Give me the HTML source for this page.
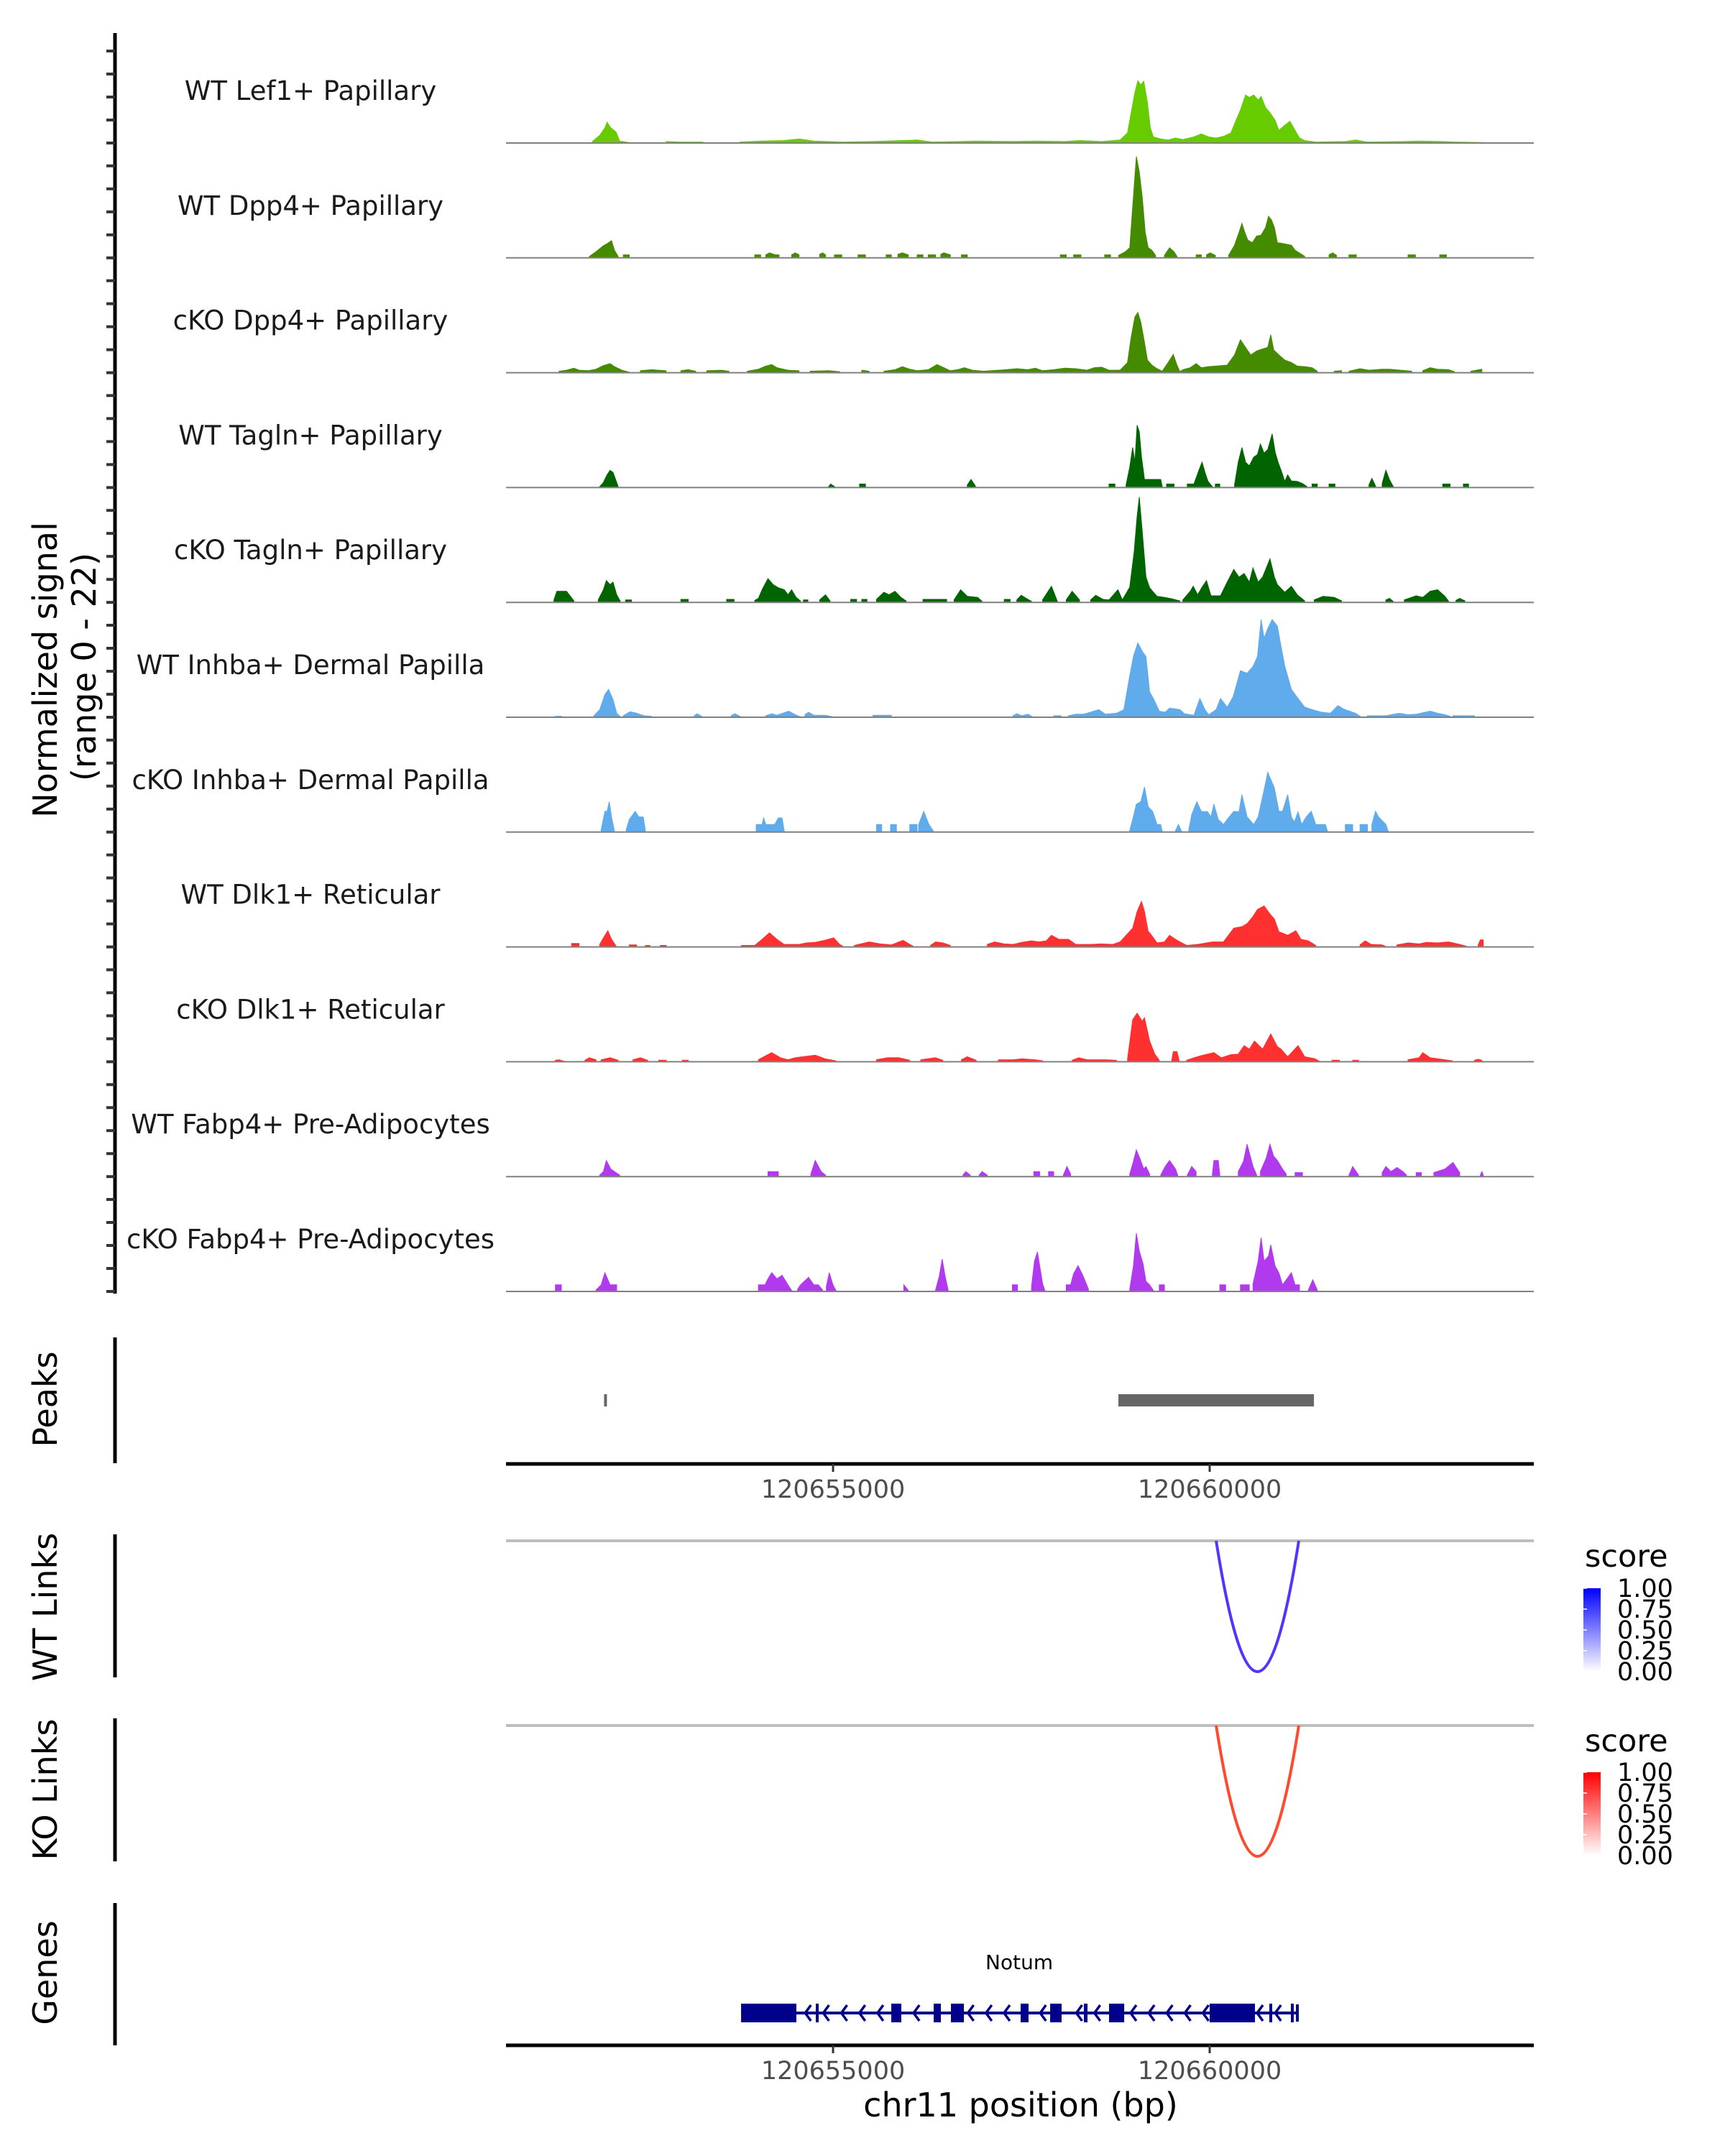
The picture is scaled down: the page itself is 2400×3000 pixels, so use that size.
<!DOCTYPE html>
<html><head><meta charset="utf-8"><style>
html,body{margin:0;padding:0;background:#fff;}
svg{display:block;font-family:"DejaVu Sans","Liberation Sans",sans-serif;}
</style></head><body>
<svg id="chart" xmlns="http://www.w3.org/2000/svg" width="2400" height="3000" viewBox="0 0 2400 3000">
<rect width="2400" height="3000" fill="#fff"/>
<text x="0" y="0" transform="translate(79,932) rotate(-90)" text-anchor="middle" font-size="46" fill="#000">Normalized signal</text>
<text x="0" y="0" transform="translate(133,928) rotate(-90)" text-anchor="middle" font-size="46" fill="#000">(range 0 - 22)</text>
<text transform="translate(79,1947) rotate(-90)" text-anchor="middle" font-size="46">Peaks</text>
<text transform="translate(79,2236) rotate(-90)" text-anchor="middle" font-size="46">WT Links</text>
<text transform="translate(79,2490) rotate(-90)" text-anchor="middle" font-size="46">KO Links</text>
<text transform="translate(79,2745) rotate(-90)" text-anchor="middle" font-size="46">Genes</text>
<line x1="160" y1="46" x2="160" y2="1800" stroke="#000" stroke-width="5"/>
<line x1="160" y1="1861" x2="160" y2="2036" stroke="#000" stroke-width="5"/>
<line x1="160" y1="2135" x2="160" y2="2334" stroke="#000" stroke-width="5"/>
<line x1="160" y1="2391" x2="160" y2="2590" stroke="#000" stroke-width="5"/>
<line x1="160" y1="2648" x2="160" y2="2846" stroke="#000" stroke-width="5"/>
<g id="tracks"></g>
<g id="lower"></g>
<text x="2205" y="2180" font-size="43">score</text>
<text x="2205" y="2437" font-size="43">score</text>
<text x="1420" y="2945" text-anchor="middle" font-size="46">chr11 position (bp)</text>
</svg>
<script>
const NS='http://www.w3.org/2000/svg';
const regionStart=120650658, regionEnd=120664303;
const trackNames=["WT Lef1+ Papillary","WT Dpp4+ Papillary","cKO Dpp4+ Papillary","WT Tagln+ Papillary","cKO Tagln+ Papillary","WT Inhba+ Dermal Papilla","cKO Inhba+ Dermal Papilla","WT Dlk1+ Reticular","cKO Dlk1+ Reticular","WT Fabp4+ Pre-Adipocytes","cKO Fabp4+ Pre-Adipocytes"];
const trackColors=["#66cc00","#458b00","#458b00","#006400","#006400","#5fabeb","#5fabeb","#ff3030","#ff3030","#b23aee","#b23aee"];
const yMax=22;
// signal clusters: [kb offset from 120650000, value]
const sigLef1WT=[[[1.80,0.3],[1.90,1.5],[1.97,3.0],[2.00,4.1],[2.05,3.0],[2.12,2.2],[2.17,0.4],[2.30,0.1]],[[2.8,0.3],[3.0,0.2],[3.3,0.2]],[[3.8,0.2],[4.1,0.4],[4.4,0.5],[4.6,0.8],[4.8,0.4],[5.2,0.2],[5.6,0.3],[6.0,0.5],[6.2,0.6],[6.4,0.2],[6.8,0.3],[7.0,0.4],[7.5,0.3],[7.8,0.4],[8.2,0.3],[8.4,0.5],[8.7,0.3],[8.95,0.6],[9.05,2],[9.10,6],[9.15,10],[9.19,12.3],[9.23,11.5],[9.27,12.2],[9.32,8],[9.36,3],[9.40,1.2],[9.50,0.8],[9.60,0.6],[9.70,1.0],[9.80,0.7],[9.95,1.2],[10.05,1.8],[10.15,1.2],[10.25,1.0],[10.35,1.3],[10.45,2.0],[10.52,4.5],[10.58,6.5],[10.65,9.5],[10.70,9.0],[10.76,9.5],[10.82,8.5],[10.86,9.2],[10.92,7.0],[10.98,6.0],[11.05,4.5],[11.10,2.5],[11.18,3.5],[11.25,4.3],[11.32,2.5],[11.38,1.0],[11.45,0.5],[11.6,0.2],[12.0,0.3],[12.14,0.6],[12.3,0.2],[12.8,0.3],[13.0,0.4],[13.3,0.3],[13.5,0.2],[13.85,0.1]]];
const sigDpp4WT=[[[1.76,0.3],[1.85,1.2],[1.95,2.4],[2.00,2.8],[2.06,3.4],[2.10,1.5],[2.15,0.3]],[[2.22,0.6],[2.30,0.6]],[[4.00,0.6],[4.08,0.6]],[[4.15,0.6],[4.20,1.0],[4.28,0.6],[4.33,0.6]],[[4.50,0.6],[4.55,1.0],[4.60,0.6]],[[4.88,0.7],[4.92,1.0],[4.96,0.6]],[[5.08,0.6],[5.18,0.6]],[[5.40,0.6],[5.50,0.6]],[[5.78,0.6],[5.85,0.6]],[[5.94,0.7],[6.00,1.0],[6.08,0.6]],[[6.20,0.6],[6.28,0.6]],[[6.35,0.6],[6.45,0.6]],[[6.52,0.7],[6.56,1.0],[6.65,0.6]],[[6.80,0.6],[6.88,0.6]],[[8.14,0.6],[8.22,0.6]],[[8.32,0.6],[8.42,0.6]],[[8.74,0.6],[8.82,0.6]],[[8.93,0.5],[9.02,1.2],[9.08,2],[9.13,12],[9.17,20.0],[9.21,17],[9.25,12],[9.29,5],[9.33,2.0],[9.38,1.5],[9.43,0.5]],[[9.55,0.5],[9.62,2.0],[9.68,1.2],[9.72,0.3]],[[9.98,0.6],[10.05,0.6]],[[10.12,0.6],[10.17,1.0],[10.24,0.5]],[[10.42,0.5],[10.50,2.5],[10.56,5],[10.60,6.8],[10.64,5],[10.68,3.5],[10.74,3.0],[10.80,4.3],[10.86,4.5],[10.92,6],[10.96,8.2],[11.00,7.5],[11.04,6],[11.08,3],[11.13,2.9],[11.20,2.7],[11.27,2.5],[11.32,1.5],[11.45,0.3]],[[11.78,0.6],[11.83,1.0],[11.88,0.5]],[[12.05,0.6],[12.15,0.6]],[[12.85,0.6],[12.95,0.6]],[[13.28,0.6],[13.37,0.6]]];
const sigDpp4KO=[[[1.35,0.3],[1.45,0.5],[1.55,0.9],[1.62,0.5],[1.75,0.4],[1.85,0.7],[1.95,1.4],[2.04,1.8],[2.10,1.2],[2.20,0.5],[2.30,0.1]],[[2.45,0.4],[2.60,0.6],[2.80,0.4]],[[3.0,0.4],[3.1,0.6],[3.2,0.3]],[[3.35,0.4],[3.55,0.5],[3.65,0.3]],[[3.9,0.3],[4.05,0.7],[4.15,1.3],[4.23,1.6],[4.30,1.0],[4.45,0.5],[4.6,0.4]],[[4.75,0.3],[5.0,0.4],[5.15,0.2]],[[5.45,0.5],[5.55,0.3]],[[5.75,0.3],[5.90,0.6],[6.00,1.2],[6.10,0.7],[6.20,0.4],[6.35,0.6],[6.47,1.6],[6.56,1.0],[6.65,0.4],[6.75,0.6],[6.84,1.0],[6.95,0.5],[7.10,0.3],[7.40,0.6],[7.55,0.8],[7.70,0.6],[7.80,0.9],[7.90,0.4],[8.05,0.6],[8.20,0.9],[8.35,0.8],[8.50,0.5],[8.60,1.0],[8.70,1.1],[8.80,0.5],[8.95,0.5],[9.05,2],[9.10,7],[9.15,11],[9.19,11.9],[9.23,10],[9.28,6],[9.32,2.5],[9.38,1.5],[9.45,0.8],[9.52,0.3],[9.60,2],[9.67,3.6],[9.72,1.5],[9.76,0.2],[9.80,0.6],[9.90,1.0],[9.98,1.8],[10.05,1.0],[10.15,1.2],[10.25,1.3],[10.40,1.5],[10.50,3.5],[10.58,6.5],[10.65,5.0],[10.72,3.5],[10.80,4.3],[10.88,4.7],[10.95,5.0],[10.99,7.5],[11.03,4.5],[11.10,3.5],[11.18,2.5],[11.27,2.0],[11.35,1.3],[11.45,1.2],[11.55,1.0],[11.62,0.3]],[[11.85,0.3],[11.95,0.4]],[[12.05,0.3],[12.20,0.8],[12.32,0.5],[12.50,0.7],[12.60,0.7],[12.75,0.5],[12.90,0.3]],[[13.05,0.4],[13.15,1.0],[13.25,0.7],[13.40,0.6],[13.48,0.2]],[[13.70,0.3],[13.85,0.7]]];
const sigTaglnWT=[[[1.90,0.2],[1.95,1.0],[2.00,2.5],[2.04,3.4],[2.08,3.0],[2.15,0.2]],[[5.00,0.2],[5.03,0.7],[5.08,0.2]],[[5.42,0.7],[5.50,0.7]],[[6.88,0.5],[6.93,1.6],[6.99,0.3]],[[8.80,0.7],[8.88,0.7]],[[9.03,0.5],[9.08,4],[9.12,7.9],[9.15,5],[9.18,12.3],[9.21,11],[9.24,6],[9.28,1.6],[9.50,1.6],[9.52,0.2]],[[9.58,0.7],[9.68,0.7]],[[9.86,0.7],[9.95,0.7],[10.02,3.5],[10.06,5.0],[10.10,3],[10.14,1.2],[10.20,0.2]],[[10.24,0.7],[10.30,0.7]],[[10.50,0.5],[10.55,5],[10.60,7.9],[10.65,5],[10.70,4.3],[10.76,6],[10.81,6.5],[10.85,8.6],[10.90,6.8],[10.95,7.5],[11.01,10.6],[11.05,7],[11.09,5],[11.14,3],[11.18,1.2],[11.22,2.5],[11.27,1.3],[11.35,1.2],[11.42,0.8],[11.48,0.2]],[[11.55,0.7],[11.62,0.7]],[[11.78,0.7],[11.86,0.7]],[[12.32,0.5],[12.36,1.8],[12.41,0.3]],[[12.50,0.8],[12.55,3.4],[12.60,1.5],[12.65,0.2]],[[13.32,0.7],[13.42,0.7]],[[13.60,0.7],[13.67,0.7]]];
const sigTaglnKO=[[[1.28,0.5],[1.32,2.2],[1.45,2.2],[1.55,0.3]],[[1.88,0.5],[1.95,2.5],[1.99,4.3],[2.04,3.5],[2.08,4.0],[2.13,1.5],[2.18,0.2]],[[2.25,0.5],[2.33,0.5]],[[3.00,0.6],[3.10,0.6]],[[3.62,0.6],[3.72,0.6]],[[4.00,0.4],[4.05,0.8],[4.10,2.5],[4.18,4.7],[4.25,3.5],[4.32,2.9],[4.40,2.5],[4.45,1.5],[4.50,2.5],[4.56,1.0],[4.62,0.3]],[[4.66,0.5],[4.72,0.5]],[[4.88,0.5],[4.96,1.5],[5.02,0.3]],[[5.30,0.6],[5.38,0.6]],[[5.45,0.6],[5.52,0.6]],[[5.65,0.6],[5.75,2.0],[5.82,1.5],[5.90,2.2],[5.98,1.0],[6.05,0.3]],[[6.28,0.6],[6.60,0.6]],[[6.70,0.5],[6.79,2.5],[6.88,1.2],[7.02,1.0],[7.08,0.2]],[[7.38,0.6],[7.46,0.6]],[[7.55,0.5],[7.61,1.4],[7.70,0.6],[7.75,0.2]],[[7.90,0.5],[8.02,3.2],[8.10,0.2]],[[8.22,0.5],[8.30,2.2],[8.40,0.5]],[[8.55,0.5],[8.62,1.4],[8.72,0.6],[8.80,0.5],[8.92,2.5],[8.98,0.5],[9.08,3],[9.14,10],[9.18,17],[9.21,20.8],[9.25,14],[9.30,5],[9.35,2.9],[9.40,2.0],[9.45,1.2],[9.55,1.0],[9.65,0.7],[9.76,0.3]],[[9.80,0.5],[9.90,2.2],[9.94,3.2],[10.00,1.5],[10.06,3],[10.12,4.3],[10.18,1.3],[10.31,1.3],[10.40,4],[10.49,6.5],[10.56,5],[10.63,5.7],[10.70,4],[10.75,6.8],[10.82,4.0],[10.88,5],[10.98,8.6],[11.04,5],[11.08,3.5],[11.18,2],[11.27,3.2],[11.35,1.5],[11.45,0.3]],[[11.58,0.5],[11.70,1.2],[11.85,1.0],[11.95,0.3]],[[12.55,0.5],[12.60,0.8],[12.65,0.2]],[[12.80,0.5],[12.96,1.3],[13.05,1.0],[13.15,2.2],[13.25,2.5],[13.35,1.2],[13.40,0.2]],[[13.50,0.4],[13.55,0.8],[13.62,0.3]]];
const sigInhbaWT=[[[1.30,0.2],[1.38,0.2]],[[1.82,0.3],[1.90,1.5],[1.97,4.5],[2.02,5.5],[2.08,3.5],[2.13,0.8],[2.18,0.1]],[[2.22,0.3],[2.31,1.1],[2.40,0.8],[2.50,0.3],[2.60,0.2]],[[3.18,0.3],[3.22,0.7],[3.28,0.2]],[[3.68,0.3],[3.73,0.7],[3.80,0.2]],[[4.15,0.3],[4.23,0.7],[4.30,0.4],[4.46,1.2],[4.55,0.5],[4.62,0.1]],[[4.68,0.5],[4.73,1.0],[4.80,0.4],[4.96,0.4],[5.05,0.1]],[[5.60,0.4],[5.85,0.4]],[[7.50,0.3],[7.55,0.7],[7.62,0.3],[7.70,0.6],[7.75,0.2]],[[8.05,0.3],[8.15,0.3]],[[8.25,0.3],[8.35,0.6],[8.45,0.6],[8.55,1.0],[8.66,1.5],[8.75,0.6],[8.90,0.8],[9.00,1.5],[9.07,7.4],[9.13,12],[9.19,14.7],[9.25,13],[9.30,12],[9.35,5],[9.40,3.7],[9.48,1.2],[9.56,1.0],[9.62,1.8],[9.76,1.5],[9.82,0.7],[9.95,0.4],[10.03,3.7],[10.10,1.5],[10.15,0.5],[10.25,1.5],[10.31,3.7],[10.40,2],[10.48,4],[10.58,9.2],[10.67,8.7],[10.75,10],[10.81,12],[10.86,19.3],[10.90,15.6],[10.95,17.5],[11.01,19.3],[11.08,18],[11.13,14],[11.18,10.1],[11.27,5.5],[11.36,3.7],[11.45,2],[11.55,1.5],[11.68,1.0],[11.80,0.8],[11.90,2.3],[11.98,1.6],[12.14,0.8],[12.20,0.2]],[[12.30,0.3],[12.55,0.3],[12.73,0.8],[12.85,0.5],[12.96,0.6],[13.05,0.9],[13.15,1.2],[13.25,0.8],[13.35,0.5],[13.42,0.2]],[[13.46,0.3],[13.75,0.3]]];
const sigInhbaKO=[[[1.92,0.5],[1.97,4.1],[2.00,4.1],[2.03,6.0],[2.06,3],[2.10,0.2]],[[2.26,0.5],[2.30,2.5],[2.38,4.1],[2.43,3],[2.49,3],[2.52,0.2]],[[4.02,1.5],[4.10,1.5],[4.12,2.8],[4.15,1.5],[4.27,1.5],[4.32,2.8],[4.37,2.8],[4.40,0.2]],[[5.65,1.5],[5.72,1.5]],[[5.84,1.5],[5.92,1.5]],[[6.10,1.5],[6.20,1.5]],[[6.22,1.5],[6.29,4.1],[6.36,1.5],[6.42,0.2]],[[9.08,0.3],[9.12,2.5],[9.17,5.5],[9.23,6],[9.28,8.9],[9.33,5],[9.39,4.1],[9.45,1.5],[9.50,1.5],[9.52,0.2]],[[9.70,0.3],[9.74,1.5],[9.78,0.2]],[[9.88,0.5],[9.92,3.5],[9.99,6.0],[10.05,4.1],[10.10,4.0],[10.13,4.1],[10.18,3],[10.22,5.5],[10.28,2.5],[10.35,1.5],[10.40,2.5],[10.49,4.1],[10.56,4],[10.60,7.4],[10.67,3],[10.76,1.5],[10.82,3],[10.90,8.3],[10.95,11.8],[11.04,8.7],[11.10,4.1],[11.15,4.1],[11.22,7.4],[11.27,3],[11.31,2],[11.36,4],[11.41,1.5],[11.47,3],[11.54,4.1],[11.60,1.5],[11.73,1.5],[11.76,0.2]],[[12.00,1.5],[12.10,1.5]],[[12.20,1.5],[12.30,1.5]],[[12.36,1.5],[12.41,4.1],[12.45,3],[12.55,1.5],[12.58,0.2]]];
const sigDlk1WT=[[[1.52,0.7],[1.62,0.7]],[[1.90,0.5],[1.96,2],[2.01,3.2],[2.06,1.5],[2.12,0.2]],[[2.30,0.4],[2.40,0.4]],[[2.52,0.3],[2.58,0.3]],[[2.72,0.3],[2.80,0.3]],[[3.82,0.3],[4.00,0.3],[4.10,1.5],[4.20,2.8],[4.30,1.5],[4.40,0.5],[4.60,0.5],[4.70,0.8],[4.82,0.9],[4.95,1.3],[5.07,1.8],[5.15,0.5],[5.20,0.1]],[[5.35,0.3],[5.55,1.0],[5.70,0.6],[5.85,0.4],[6.01,1.3],[6.10,0.5],[6.15,0.1]],[[6.38,0.3],[6.45,1.0],[6.55,0.8],[6.65,0.3]],[[7.15,0.5],[7.25,1.0],[7.38,0.6],[7.50,0.5],[7.62,0.9],[7.75,1.2],[7.85,1.0],[7.95,1.2],[8.02,2.3],[8.12,1.5],[8.25,1.5],[8.35,0.5],[8.55,0.5],[8.70,0.6],[8.85,0.5],[8.95,1.0],[9.12,3.7],[9.18,7],[9.24,9.0],[9.28,7],[9.33,3],[9.35,2.8],[9.45,0.8],[9.55,1.0],[9.62,2.3],[9.70,1.5],[9.76,1.0],[9.85,0.3],[10.00,0.5],[10.20,1.0],[10.35,1.0],[10.49,3.7],[10.60,4],[10.67,4.6],[10.75,6],[10.81,7.4],[10.90,8.1],[10.98,6.5],[11.04,5.5],[11.10,3],[11.22,2.3],[11.33,3.2],[11.40,1.5],[11.50,1.2],[11.60,0.3]],[[12.20,0.4],[12.27,1.2],[12.35,0.5],[12.50,0.4],[12.55,0.1]],[[12.70,0.4],[12.85,0.8],[13.00,0.6],[13.10,0.9],[13.25,0.8],[13.40,1.0],[13.55,0.5],[13.65,0.1]],[[13.80,0.4],[13.83,1.4],[13.87,1.4]]];
const sigDlk1KO=[[[1.30,0.3],[1.35,0.4],[1.42,0.1]],[[1.70,0.3],[1.76,0.8],[1.85,0.4]],[[1.92,0.4],[2.04,0.8],[2.15,0.3]],[[2.35,0.4],[2.45,0.8],[2.55,0.3]],[[2.70,0.3],[2.80,0.3]],[[3.02,0.3],[3.10,0.3]],[[4.05,0.4],[4.15,1.2],[4.23,1.8],[4.35,0.8],[4.45,0.4],[4.55,0.8],[4.82,1.3],[4.95,0.6],[5.10,0.2]],[[5.65,0.4],[5.80,0.8],[5.95,0.8],[6.10,0.3]],[[6.25,0.4],[6.45,0.8],[6.55,0.3]],[[6.80,0.4],[6.88,1.0],[7.00,0.3]],[[7.30,0.4],[7.50,0.4],[7.62,0.6],[7.80,0.4],[7.90,0.2]],[[8.30,0.3],[8.39,0.8],[8.50,0.4],[8.75,0.4],[8.90,0.3]],[[9.05,0.5],[9.12,8.3],[9.18,9.6],[9.25,8],[9.28,8.7],[9.35,4.1],[9.42,1.5],[9.48,0.3]],[[9.65,0.3],[9.67,2.0],[9.72,2.0],[9.75,0.2]],[[9.85,0.3],[9.95,0.8],[10.05,1.2],[10.22,1.8],[10.32,0.8],[10.45,1.4],[10.55,1.5],[10.63,3.2],[10.70,2.5],[10.77,4.1],[10.88,2.5],[10.99,5.5],[11.08,3],[11.13,2.5],[11.22,1],[11.36,3.2],[11.45,1.0],[11.59,0.6],[11.65,0.1]],[[11.82,0.3],[11.92,0.3]],[[12.10,0.3],[12.18,0.3]],[[12.85,0.4],[13.00,0.8],[13.05,1.8],[13.15,0.8],[13.30,0.5],[13.45,0.2]],[[13.75,0.3],[13.80,0.5],[13.85,0.3]]];
const sigFabp4WT=[[[1.90,0.3],[1.95,1.0],[1.99,3.2],[2.05,1.5],[2.10,1.0],[2.17,0.3]],[[4.18,1.0],[4.32,1.0]],[[4.76,0.5],[4.82,3.2],[4.90,1.0],[4.96,0.3]],[[6.82,0.3],[6.86,1.0],[6.92,0.3]],[[7.04,0.3],[7.08,1.0],[7.15,0.3]],[[7.78,1.0],[7.86,1.0]],[[7.98,1.0],[8.05,1.0]],[[8.18,0.3],[8.23,2.0],[8.28,0.5]],[[9.08,0.5],[9.13,3],[9.17,5.3],[9.22,3.5],[9.27,1.5],[9.30,2],[9.35,0.5]],[[9.50,0.3],[9.56,2],[9.62,3.2],[9.70,1.5],[9.73,0.3]],[[9.86,0.3],[9.92,2],[9.98,1.0]],[[10.20,0.5],[10.22,3.2],[10.28,3.2],[10.30,0.3]],[[10.55,1.0],[10.62,3],[10.67,6.4],[10.75,2],[10.80,0.3]],[[10.85,1.0],[10.93,3.7],[10.98,6.4],[11.03,4],[11.08,3.2],[11.15,1.5],[11.20,0.5]],[[11.32,0.8],[11.42,0.8]],[[12.05,0.3],[12.10,2.0],[12.18,0.3]],[[12.50,0.8],[12.55,2.0],[12.62,1.0],[12.70,1.8],[12.78,1.0],[12.83,0.3]],[[12.96,0.8],[13.03,0.8]],[[13.20,0.8],[13.35,1.5],[13.46,2.8],[13.55,0.8]],[[13.83,0.3],[13.85,1.0],[13.87,0.3]]];
const sigFabp4KO=[[[1.30,1.3],[1.38,1.3]],[[1.85,0.3],[1.92,1.3],[1.97,3.7],[2.04,1.3],[2.13,1.3]],[[4.05,1.3],[4.14,1.3],[4.18,2.5],[4.23,3.7],[4.30,2.5],[4.37,3.2],[4.45,1.3],[4.50,0.2]],[[4.58,0.4],[4.62,1.3],[4.73,2.8],[4.80,1.3],[4.86,1.3],[4.92,0.3]],[[4.97,1.0],[5.01,3.7],[5.06,1.3],[5.10,0.2]],[[6.02,1.3],[6.08,0.2]],[[6.45,0.3],[6.50,3],[6.54,6.4],[6.58,3],[6.62,0.3]],[[7.49,1.3],[7.56,1.3]],[[7.75,1.0],[7.79,6],[7.83,7.8],[7.90,1.5],[7.93,0.2]],[[8.22,1.3],[8.28,1.3],[8.32,3.5],[8.38,5.1],[8.45,3],[8.52,0.5]],[[9.08,0.5],[9.13,5],[9.17,11.5],[9.21,8],[9.26,5.5],[9.30,2],[9.35,1.3],[9.40,0.2]],[[9.48,1.3],[9.55,1.3]],[[10.30,1.3],[10.38,1.3]],[[10.58,1.3],[10.70,1.3]],[[10.75,1.5],[10.82,6],[10.86,10.6],[10.90,6],[10.96,7],[10.99,9.2],[11.05,5],[11.10,3.7],[11.15,1.3],[11.27,3.7],[11.32,1.3],[11.38,1.3]],[[11.50,0.3],[11.56,2.3],[11.62,0.3]]];
const trackSignals=[sigLef1WT,sigDpp4WT,sigDpp4KO,sigTaglnWT,sigTaglnKO,sigInhbaWT,sigInhbaKO,sigDlk1WT,sigDlk1KO,sigFabp4WT,sigFabp4KO];
const peakStarts=[120651960,120658788];
const peakEnds=[120651990,120661384];
const wtLinkStarts=[120660086], wtLinkEnds=[120661183], wtLinkScores=[0.8];
const koLinkStarts=[120660086], koLinkEnds=[120661183], koLinkScores=[0.8];
const geneName="Notum", geneStart=120653779, geneEnd=120661164;
const exonStarts=[120653779,120654771,120655773,120656336,120656565,120657490,120657882,120658330,120658664,120660000,120660792,120661078];
const exonEnds=[120654513,120654809,120655906,120656431,120656737,120657595,120658034,120658378,120658865,120660601,120660830,120661116];
const xTicks=[120655000,120660000];
const legendTicks=["1.00","0.75","0.50","0.25","0.00"];

const X0=704, X1=2134;
function xScale(bp){return X0+(bp-regionStart)/(regionEnd-regionStart)*(X1-X0);}
function kbX(kb){return xScale(120650000+(2.0+(kb-2.0)*0.98)*1000);}
const trackStep=159.8, trackH=155;
function baseY(i){return 199+i*trackStep;}
function yScale(i,v){return baseY(i)-v/yMax*trackH;}
function mk(tag,attrs,parent){const e=document.createElementNS(NS,tag);for(const k in attrs)e.setAttribute(k,attrs[k]);parent.appendChild(e);return e;}

const tracks=document.getElementById('tracks');
const svg=document.getElementById('chart');
for(let i=0;i<trackNames.length;i++){
  const g=mk('g',{},tracks);
  
  
  for(let k=0;k<5;k++){
    const t=mk('line',{x1:148,x2:160,y1:baseY(i)-k*32,y2:baseY(i)-k*32,stroke:'#333','stroke-width':4},g);
    
    
  }
  const lab=mk('text',{x:432,y:baseY(i)-60,'text-anchor':'middle','font-size':37,fill:'#1a1a1a'},g);
  lab.textContent=trackNames[i];
  
  
  trackSignals[i].forEach(cl=>{
    let d='M'+kbX(cl[0][0]).toFixed(1)+','+baseY(i);
    cl.forEach(p=>{d+='L'+kbX(p[0]).toFixed(1)+','+yScale(i,p[1]).toFixed(1);});
    d+='L'+kbX(cl[cl.length-1][0]).toFixed(1)+','+baseY(i)+'Z';
    const a=mk('path',{d:d,fill:trackColors[i],stroke:trackColors[i],'stroke-width':1},g);
    
    
  });
  const bl=mk('line',{x1:X0,x2:X1,y1:baseY(i),y2:baseY(i),stroke:'#808080','stroke-width':2},g);
  
  
}
const lower=document.getElementById('lower');
for(let j=0;j<peakStarts.length;j++){
  const x1=xScale(peakStarts[j]),x2=Math.max(xScale(peakEnds[j]),x1+4);
  const r=mk('rect',{x:x1,y:1940,width:x2-x1,height:17,fill:'#666'},lower);
  
  
}
function xAxis(y,name){
  const ax=mk('line',{x1:X0,x2:X1,y1:y,y2:y,stroke:'#000','stroke-width':5},lower);
  
  
  xTicks.forEach(t=>{
    const tk=mk('line',{x1:xScale(t),x2:xScale(t),y1:y,y2:y+11,stroke:'#333','stroke-width':3},lower);
    
    
    const tl=mk('text',{x:xScale(t),y:y+47,'text-anchor':'middle','font-size':35,fill:'#4d4d4d'},lower);
    tl.textContent=String(t);
    
    
  });
}
xAxis(2037,'peaks-x-axis');
xAxis(2846,'genes-x-axis');
function links(y0,starts,ends,scores,col,name){
  const gl=mk('line',{x1:X0,x2:X1,y1:y0,y2:y0,stroke:'#bebebe','stroke-width':4},lower);
  
  
  for(let j=0;j<starts.length;j++){
    const a=xScale(starts[j]),b=xScale(ends[j]),m=(a+b)/2;
    const p=mk('path',{d:`M${a},${y0} Q${m},${y0+364} ${b},${y0}`,fill:'none',stroke:col,'stroke-width':4},lower);
    
    
  }
}
links(2144,wtLinkStarts,wtLinkEnds,wtLinkScores,'#5533ff','wt-link');
links(2401,koLinkStarts,koLinkEnds,koLinkScores,'#ff4a2e','ko-link');
function legend(top,c,id,name){
  const defs=mk('defs',{},svg);
  const lg=mk('linearGradient',{id:id,x1:0,y1:0,x2:0,y2:1},defs);
  mk('stop',{offset:'0','stop-color':c},lg);
  mk('stop',{offset:'1','stop-color':'#ffffff'},lg);
  const r=mk('rect',{x:2203,y:top,width:24,height:116,fill:'url(#'+id+')'},lower);
  
  
  legendTicks.forEach((t,k)=>{
    const yy=top+k*29;
    const tk=mk('line',{x1:2203,x2:2208,y1:yy,y2:yy,stroke:'#fff','stroke-width':1.5},lower);
    
    
    const tx=mk('text',{x:2250,y:yy+12,'font-size':35,fill:'#000'},lower);
    tx.textContent=t;
    
    
  });
}
legend(2210,'#0000ff','gradWT','wt-legend');
legend(2466,'#ff0000','gradKO','ko-legend');
const gy=2801;
const gl=mk('line',{x1:xScale(geneStart),x2:xScale(geneEnd),y1:gy,y2:gy,stroke:'#00008b','stroke-width':4},lower);


for(let bp=geneStart+150;bp<geneEnd-40;bp+=240){
  let inEx=false;
  for(let j=0;j<exonStarts.length;j++){if(bp>exonStarts[j]-60&&bp<exonEnds[j]+40)inEx=true;}
  if(inEx)continue;
  const x=xScale(bp);
  const ar=mk('path',{d:`M${x+6},${gy-11} L${x-2},${gy} L${x+6},${gy+11}`,fill:'none',stroke:'#00008b','stroke-width':3.5},lower);
  
  
}
for(let j=0;j<exonStarts.length;j++){
  const a=xScale(exonStarts[j]),b=xScale(exonEnds[j]);
  const r=mk('rect',{x:a,y:gy-13,width:Math.max(b-a,3),height:26,fill:'#00008b'},lower);
  
  
}
const endT=mk('line',{x1:xScale(geneEnd),x2:xScale(geneEnd),y1:gy-12,y2:gy+12,stroke:'#00008b','stroke-width':4},lower);


const gn=mk('text',{x:(xScale(geneStart)+xScale(geneEnd))/2,y:2740,'text-anchor':'middle','font-size':28,fill:'#000'},lower);
gn.textContent=geneName;


</script>
</body></html>
